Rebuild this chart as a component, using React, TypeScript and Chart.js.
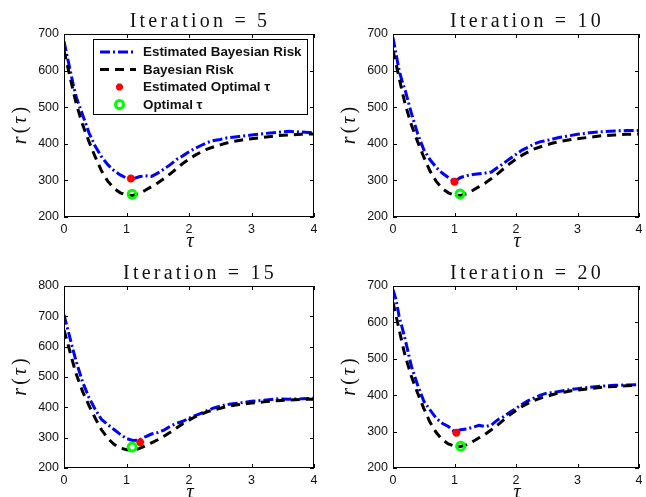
import React, { useEffect, useRef } from "react";
import { Chart, registerables } from "chart.js";

Chart.register(...registerables);

// ---------------- data ----------------
const TAU = [
  0, 0.05, 0.1, 0.15, 0.2, 0.3, 0.4, 0.5, 0.6, 0.7, 0.8, 0.9, 1.0, 1.1, 1.2, 1.3,
  1.4, 1.5, 1.6, 1.7, 1.8, 1.9, 2.0, 2.1, 2.2, 2.3, 2.4, 2.5, 2.6, 2.7, 2.8, 2.9,
  3.0, 3.2, 3.4, 3.6, 3.8, 4.0,
];

const BAYES_RISK = [
  655, 618, 580, 542, 507, 451, 406, 364, 326, 298, 278, 266, 260, 259, 264, 273,
  283, 293, 305, 318, 332, 346, 358, 369, 378, 386, 392, 397, 402, 406, 409, 412,
  414, 418, 422, 424, 426, 427,
];

const EST_RISK_5 = [
  680, 640, 600, 560, 525, 478, 430, 393, 365, 343, 327, 315, 306, 304, 310, 313,
  311, 320, 331, 343, 357, 367, 378, 388, 396, 404, 409, 412, 416, 418, 420, 422,
  424, 428, 431, 434, 432, 430,
];

const EST_RISK_10 = [
  690, 645, 600, 570, 545, 483, 428, 384, 357, 336, 320, 308, 297, 308, 313, 316,
  318, 320, 323, 335, 347, 359, 371, 383, 391, 400, 406, 409, 413, 417, 420, 423,
  426, 430, 433, 435, 436, 436,
];

const EST_RISK_15 = [
  705, 665, 625, 585, 548, 482, 432, 393, 360, 343, 327, 311, 297, 291, 292, 303,
  312, 317, 325, 338, 347, 354, 364, 373, 381, 390, 398, 404, 409, 412, 414, 417,
  420, 423, 428, 427, 428, 430,
];

const EST_RISK_20 = [
  690, 662, 616, 585, 552, 479, 428, 384, 360, 337, 323, 314, 300, 305, 307, 312,
  317, 314, 318, 332, 341, 353, 364, 375, 385, 393, 400, 406, 407, 410, 413, 416,
  418, 422, 425, 427, 428, 429,
];

const EST_RISKS = [EST_RISK_5, EST_RISK_10, EST_RISK_15, EST_RISK_20];
const ITERATIONS = [5, 10, 15, 20];
const EST_OPT_TAU = [1.07, 1.0, 1.22, 1.03];
const EST_OPT_RISK = [305, 296, 285, 297];
const OPT_TAU = [1.09, 1.09, 1.09, 1.1];
const OPT_RISK = [262, 263, 269, 260];
const Y_MIN = 200;
const Y_MAX = [700, 700, 800, 700];
const Y_STEP = 100;
const X_MIN = 0;
const X_MAX = 4;
const X_STEP = 1;
const LEGEND_LABELS = [
  "Estimated Bayesian Risk",
  "Bayesian Risk",
  "Estimated Optimal τ",
  "Optimal τ",
];

// ---------------- layout / style ----------------
const PANELS = [
  { left: 0, top: 0, w: 323, h: 248, l: 64, t: 34, r: 314, b: 217 },
  { left: 323, top: 0, w: 323, h: 248, l: 393, t: 34, r: 643, b: 217 },
  { left: 0, top: 248, w: 323, h: 249, l: 64, t: 286, r: 314, b: 468 },
  { left: 323, top: 248, w: 323, h: 249, l: 393, t: 286, r: 643, b: 468 },
];

const BLUE = "#0000ff";
const BLACK = "#000000";
const RED = "#ff0000";
const GREEN = "#00ff00";
const BLUE_DASH = [10, 3, 2, 3];
const BLACK_DASH = [9, 6];
const TICK_FONT = { family: "'Liberation Sans', Arial, sans-serif", size: 12.5 };

function drawStar(ctx: CanvasRenderingContext2D, x: number, y: number, r: number) {
  ctx.save();
  ctx.strokeStyle = RED;
  ctx.lineWidth = 2.6;
  ctx.beginPath();
  for (let k = 0; k < 4; k++) {
    const a = (k * Math.PI) / 4;
    ctx.moveTo(x - r * Math.cos(a), y - r * Math.sin(a));
    ctx.lineTo(x + r * Math.cos(a), y + r * Math.sin(a));
  }
  ctx.stroke();
  ctx.restore();
}

function makeOverlay(idx: number) {
  return {
    id: "overlay" + idx,
    afterDraw(chart: any) {
      const ctx: CanvasRenderingContext2D = chart.ctx;
      const { left, right, top, bottom } = chart.chartArea;
      const xs = chart.scales.x;
      const ys = chart.scales.y;
      ctx.save();
      // box
      ctx.strokeStyle = BLACK;
      ctx.lineWidth = 1;
      ctx.setLineDash([]);
      ctx.strokeRect(Math.round(left) + 0.5, Math.round(top) + 0.5, Math.round(right - left) - 1, Math.round(bottom - top) - 1);
      // inward ticks
      const tl = 4;
      ctx.beginPath();
      for (let v = X_MIN; v <= X_MAX; v += X_STEP) {
        const px = Math.round(xs.getPixelForValue(v)) + 0.5;
        ctx.moveTo(px, bottom);
        ctx.lineTo(px, bottom - tl);
        ctx.moveTo(px, top);
        ctx.lineTo(px, top + tl);
      }
      for (let v = Y_MIN; v <= Y_MAX[idx]; v += Y_STEP) {
        const py = Math.round(ys.getPixelForValue(v)) + 0.5;
        ctx.moveTo(left, py);
        ctx.lineTo(left + tl, py);
        ctx.moveTo(right, py);
        ctx.lineTo(right - tl, py);
      }
      ctx.stroke();

      // title
      ctx.fillStyle = "#111";
      ctx.font = "20px 'Liberation Serif', serif";
      (ctx as any).letterSpacing = "3.2px";
      ctx.textAlign = "center";
      ctx.textBaseline = "alphabetic";
      ctx.fillText("Iteration = " + ITERATIONS[idx], (left + right) / 2 + 11, top - 7.5);
      (ctx as any).letterSpacing = "0px";

      // x label
      ctx.font = "italic 20px 'Liberation Serif', serif";
      ctx.fillText("τ", (left + right) / 2 + 1, bottom + 30);

      // y label  r(τ)
      ctx.save();
      ctx.translate(left - 44, (top + bottom) / 2);
      ctx.rotate(-Math.PI / 2);
      const parts: [string, string][] = [
        ["r", "italic 20px 'Liberation Serif', serif"],
        ["(", "20px 'Liberation Serif', serif"],
        ["τ", "italic 20px 'Liberation Serif', serif"],
        [")", "20px 'Liberation Serif', serif"],
      ];
      const gap = 3;
      let total = 0;
      const widths = parts.map(([s, f]) => {
        ctx.font = f;
        const w = ctx.measureText(s).width;
        total += w;
        return w;
      });
      total += gap * (parts.length - 1);
      let cx = -total / 2;
      ctx.textAlign = "left";
      parts.forEach(([s, f], i) => {
        ctx.font = f;
        ctx.fillText(s, cx, 6);
        cx += widths[i] + gap;
      });
      ctx.restore();

      // legend (first panel only)
      if (idx === 0) {
        const bx = 93, by = 39, bw = 214, bh = 75;
        ctx.fillStyle = "#ffffff";
        ctx.fillRect(bx, by, bw, bh);
        ctx.strokeStyle = BLACK;
        ctx.lineWidth = 1;
        ctx.strokeRect(bx + 0.5, by + 0.5, bw, bh);
        const rows = [52, 69.5, 87, 104.5];
        // blue sample
        ctx.lineWidth = 3;
        ctx.strokeStyle = BLUE;
        ctx.setLineDash(BLUE_DASH);
        ctx.beginPath();
        ctx.moveTo(100, rows[0]);
        ctx.lineTo(136, rows[0]);
        ctx.stroke();
        ctx.strokeStyle = BLACK;
        ctx.setLineDash(BLACK_DASH);
        ctx.beginPath();
        ctx.moveTo(100, rows[1]);
        ctx.lineTo(136, rows[1]);
        ctx.stroke();
        ctx.setLineDash([]);
        drawStar(ctx, 119.5, rows[2], 3.5);
        ctx.strokeStyle = GREEN;
        ctx.lineWidth = 3;
        ctx.beginPath();
        ctx.arc(119.5, rows[3], 4, 0, Math.PI * 2);
        ctx.stroke();
        ctx.fillStyle = "#111";
        ctx.font = "bold 13.4px 'Liberation Sans', Arial, sans-serif";
        ctx.textAlign = "left";
        ctx.textBaseline = "middle";
        LEGEND_LABELS.forEach((lab, i) => ctx.fillText(lab, 143, rows[i] + 0.5));
      }
      ctx.restore();
    },
  };
}

function Panel({ idx }: { idx: number }) {
  const ref = useRef<HTMLCanvasElement>(null);
  const p = PANELS[idx];
  useEffect(() => {
    if (!ref.current) return;
    const aL = p.l - p.left;
    const aT = p.t - p.top;
    const aR = p.r - p.left;
    const aB = p.b - p.top;
    const est = EST_RISKS[idx];
    const chart = new Chart(ref.current, {
      type: "line",
      data: {
        datasets: [
          {
            label: LEGEND_LABELS[0],
            data: TAU.map((x, i) => ({ x, y: est[i] })),
            borderColor: BLUE,
            borderWidth: 3,
            borderDash: BLUE_DASH,
            pointRadius: 0,
            tension: 0,
            fill: false,
            order: 4,
          },
          {
            label: LEGEND_LABELS[1],
            data: TAU.map((x, i) => ({ x, y: BAYES_RISK[i] })),
            borderColor: BLACK,
            borderWidth: 3,
            borderDash: BLACK_DASH,
            pointRadius: 0,
            tension: 0,
            fill: false,
            order: 3,
          },
          {
            label: LEGEND_LABELS[2],
            data: [{ x: EST_OPT_TAU[idx], y: EST_OPT_RISK[idx] }],
            showLine: false,
            pointStyle: "star",
            pointRadius: 4,
            borderColor: RED,
            backgroundColor: RED,
            pointBorderWidth: 2.6,
            order: 2,
          },
          {
            label: LEGEND_LABELS[3],
            data: [{ x: OPT_TAU[idx], y: OPT_RISK[idx] }],
            showLine: false,
            pointStyle: "circle",
            pointRadius: 4,
            borderColor: GREEN,
            backgroundColor: "rgba(0,0,0,0)",
            pointBorderWidth: 3,
            order: 1,
          },
        ] as any,
      },
      options: {
        animation: false,
        responsive: false,
        maintainAspectRatio: false,
        devicePixelRatio: 1,
        events: [],
        layout: { padding: { left: 0, top: aT, right: p.w - aR, bottom: 0 } },
        plugins: {
          legend: { display: false },
          tooltip: { enabled: false },
          title: { display: false },
        },
        scales: {
          x: {
            type: "linear",
            min: X_MIN,
            max: X_MAX,
            grid: { display: false, drawTicks: false },
            border: { display: false },
            ticks: {
              stepSize: X_STEP,
              padding: 5,
              color: "#111",
              font: TICK_FONT,
              maxRotation: 0,
              autoSkip: false,
            },
            afterFit: (s: any) => {
              s.height = p.h - aB;
              s.paddingLeft = 0;
              s.paddingRight = 0;
            },
          },
          y: {
            type: "linear",
            min: Y_MIN,
            max: Y_MAX[idx],
            grid: { display: false, drawTicks: false },
            border: { display: false },
            ticks: {
              stepSize: Y_STEP,
              padding: 5,
              color: "#111",
              font: TICK_FONT,
            },
            afterFit: (s: any) => {
              s.width = aL;
              s.paddingTop = 0;
              s.paddingBottom = 0;
            },
          },
        },
      } as any,
      plugins: [makeOverlay(idx)],
    });
    return () => chart.destroy();
  }, [idx]);
  return (
    <canvas
      ref={ref}
      width={p.w}
      height={p.h}
      style={{ position: "absolute", left: p.left, top: p.top, width: p.w, height: p.h }}
    />
  );
}

export default function App() {
  return (
    <div
      style={{
        position: "absolute",
        left: 0,
        top: 0,
        width: 646,
        height: 497,
        background: "#ffffff",
        overflow: "hidden",
      }}
    >
      {PANELS.map((_, i) => (
        <Panel key={i} idx={i} />
      ))}
    </div>
  );
}
